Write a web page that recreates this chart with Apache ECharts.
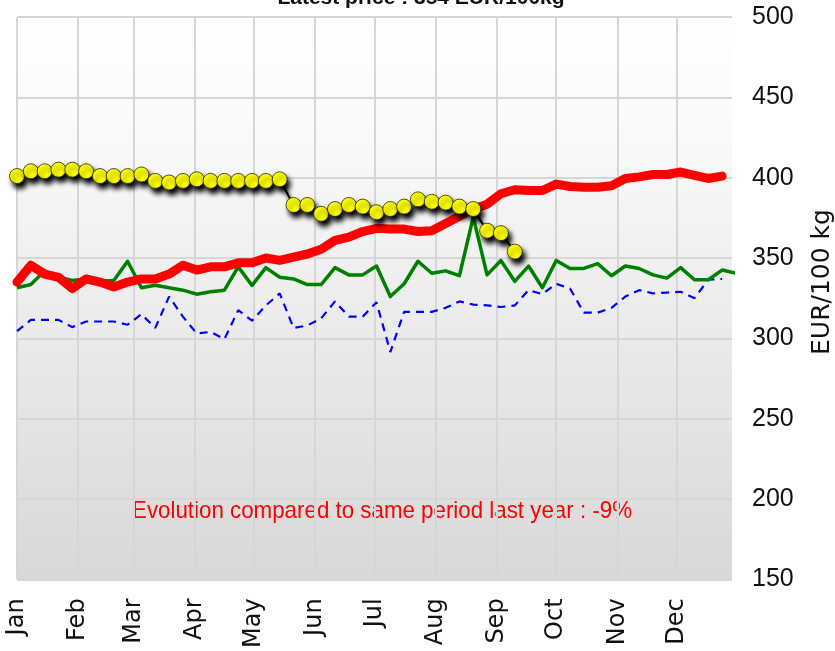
<!DOCTYPE html>
<html>
<head>
<meta charset="utf-8">
<script src="https://cdn.jsdelivr.net/npm/echarts@6/dist/echarts.min.js"></script>
<style>
  html, body { margin: 0; padding: 0; background: #fff; }
  #main { width: 835px; height: 651px; }
</style>
</head>
<body>
<div id="main"></div>
<script>
// month labels and the day of year where each month starts
const months = ["Jan", "Feb", "Mar", "Apr", "May", "Jun", "Jul", "Aug", "Sep", "Oct", "Nov", "Dec"];
const monthStartDays = [0, 31, 59, 90, 120, 151, 181, 212, 243, 273, 304, 334];
const yTicks = [150, 200, 250, 300, 350, 400, 450, 500];

// weekly prices, EUR/100 kg (week 1 first)
const currentYear = [401, 404, 404, 405, 405, 404, 401, 401, 401, 402, 398, 397, 398, 399, 398, 398, 398, 398, 398, 399,
  383, 383, 377.5, 380.5, 383, 382, 378.5, 380.5, 382, 386.5, 385, 384.5, 382, 380.5, 367, 365.5, 354];
const average = [335, 345.5, 340, 338, 331, 337, 335, 332, 335, 337, 337, 340, 345.5, 342.5, 344.5, 344.5, 347, 347, 350, 348.5,
  350.5, 352.5, 355.5, 361, 363, 366.5, 368.5, 368, 368, 366.5, 367, 371.5, 376, 380.5, 383.5, 390, 392.5, 392, 392, 396,
  394.5, 394, 394, 395, 399.5, 400.5, 402, 402, 403.5, 401.5, 399.5, 401];
const lastYear = [331.5, 333.5, 342, 338, 336, 337, 335.5, 336, 348, 331.5, 333, 331.5, 330, 327.5, 329, 330, 344.5, 333, 344, 338,
  337, 333.5, 333.5, 344, 339.5, 339.5, 345, 326, 334, 348, 340.5, 342, 339, 375.5, 339.5, 348.5, 335.5, 345, 331.5, 348.5,
  343.5, 343.5, 346.5, 339, 345, 343.5, 339.5, 337.5, 344, 336.5, 336.5, 342.5, 340.5];
const twoYearsAgo = [304.5, 311.5, 311.5, 311.5, 307, 310.5, 310.5, 310.5, 308.5, 315, 306.5, 326, 313.5, 303, 304, 299.5, 317.5, 311, 320.5, 328,
  306.5, 308, 312.5, 323, 313.5, 313.5, 322.5, 291.5, 316.5, 316.5, 316.5, 319, 323, 321, 320.5, 319.5, 320.5, 330, 327.5, 334,
  331, 316, 316, 319, 326, 330, 328, 328.5, 329, 325, 336.5, 337];

const titleText = "Latest price : 354 EUR/100kg";
const noteText = "Evolution compared to same period last year : -9%";

function toPoints(values) {
  return values.map((v, i) => [i * 7, v]);
}

const chart = echarts.init(document.getElementById("main"));

const option = {
  animation: false,
  backgroundColor: "#ffffff",
  grid: {
    left: 17, right: 103, top: 17, bottom: 71,
    show: true,
    borderWidth: 0,
    backgroundColor: new echarts.graphic.LinearGradient(0, 0, 0, 1, [
      { offset: 0, color: "#ffffff" },
      { offset: 0.2, color: "#fafafa" },
      { offset: 0.55, color: "#ebebeb" },
      { offset: 1, color: "#d8d8d8" }
    ])
  },
  xAxis: {
    type: "value",
    min: 0,
    max: 362,
    axisLine: { show: false },
    axisTick: { show: false, customValues: monthStartDays },
    splitLine: { show: true, lineStyle: { color: "#d6d6d6", width: 2 } },
    axisLabel: {
      customValues: monthStartDays,
      rotate: 90,
      margin: 19,
      fontFamily: "DejaVu Sans",
      fontSize: 24,
      color: "#111",
      formatter: v => months[monthStartDays.indexOf(v)]
    }
  },
  yAxis: {
    type: "value",
    position: "right",
    min: yTicks[0],
    max: yTicks[yTicks.length - 1],
    interval: 50,
    axisLine: { show: false },
    axisTick: { show: false },
    splitLine: { show: true, lineStyle: { color: "#d6d6d6", width: 2 } },
    axisLabel: {
      margin: 20,
      fontFamily: "Liberation Sans",
      fontSize: 25,
      color: "#111"
    }
  },
  graphic: [
    {
      type: "text",
      x: 421, y: 9,
      style: {
        text: titleText,
        align: "center",
        verticalAlign: "bottom",
        font: "bold 21px 'Liberation Sans'",
        fill: "#111"
      }
    },
    {
      type: "text",
      x: 382, y: 511,
      scaleX: 0.93,
      style: {
        text: noteText,
        align: "center",
        verticalAlign: "middle",
        font: "24px 'Liberation Sans'",
        fill: "#ff0000"
      }
    },
    {
      type: "text",
      x: 822, y: 282,
      rotation: Math.PI / 2,
      style: {
        text: "EUR/100 kg",
        align: "center",
        verticalAlign: "middle",
        font: "25px 'DejaVu Sans'",
        fill: "#111"
      }
    }
  ],
  series: [
    {
      type: "line",
      data: toPoints(twoYearsAgo),
      symbol: "none",
      lineStyle: { color: "#0000ff", width: 2.2, type: [8, 6] },
      z: 2
    },
    {
      type: "line",
      data: toPoints(lastYear),
      symbol: "none",
      lineStyle: { color: "#008000", width: 3.5, join: "round" },
      z: 3
    },
    {
      type: "line",
      data: toPoints(average),
      symbol: "none",
      lineStyle: { color: "#ff0000", width: 9, cap: "round", join: "round" },
      z: 4
    },
    {
      type: "line",
      data: toPoints(currentYear),
      symbol: "circle",
      symbolSize: 15,
      lineStyle: {
        color: "#000", width: 2,
        shadowColor: "#000", shadowBlur: 4, shadowOffsetX: 2, shadowOffsetY: 4
      },
      itemStyle: {
        color: "#ffff00",
        borderColor: "#222",
        borderWidth: 0.8,
        shadowColor: "rgba(0,0,0,1)",
        shadowBlur: 5,
        shadowOffsetX: 3,
        shadowOffsetY: 5
      },
      z: 5
    }
  ]
};

chart.setOption(option);
</script>
</body>
</html>
